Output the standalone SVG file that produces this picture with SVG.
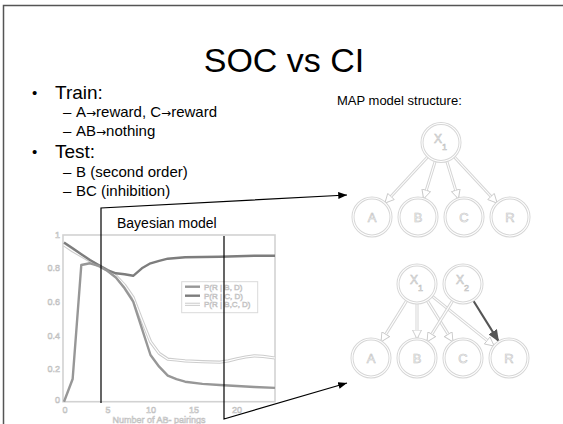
<svg xmlns="http://www.w3.org/2000/svg" width="563" height="424" viewBox="0 0 563 424">
  <defs>
    <style>
      .txt { font-family: "Liberation Sans", Arial, sans-serif; fill: #000; }
      .arr { font-family: "DejaVu Sans", sans-serif; font-size: 12px; }
      .ghost { font-family: "Liberation Sans", Arial, sans-serif; fill: #fff; stroke: #c2c2c2; stroke-width: 0.6; }
      .node-ring { fill: #fff; stroke: #d6d6d6; stroke-width: 3; }
      .node-core { fill: none; stroke: #fff; stroke-width: 1.1; }
      .edge-outer { stroke: #d4d4d4; stroke-width: 3; fill: none; marker-end: url(#hollow); }
      .edge-inner { stroke: #fff; stroke-width: 1.1; fill: none; }
      .pointer { stroke: #000; stroke-width: 1.2; fill: none; marker-end: url(#solid); }
    </style>
    <marker id="hollow" markerUnits="userSpaceOnUse" viewBox="0 0 10 10" refX="9.5" refY="5" markerWidth="10" markerHeight="10" orient="auto">
      <path d="M0.5,0.5 L9.5,5 L0.5,9.5 z" fill="#fff" stroke="#c8c8c8" stroke-width="0.9"/>
    </marker>
    <marker id="solid" markerUnits="userSpaceOnUse" viewBox="0 0 10 8" refX="10" refY="4" markerWidth="9" markerHeight="7" orient="auto">
      <path d="M0,0 L10,4 L0,8 z" fill="#000"/>
    </marker>
    <marker id="dark" markerUnits="userSpaceOnUse" viewBox="0 0 12 10" refX="12" refY="5" markerWidth="12" markerHeight="10" orient="auto">
      <path d="M0,0 L12,5 L0,10 z" fill="#555"/>
    </marker>
  </defs>

  <rect width="563" height="424" fill="#fff"/>

  <!-- slide frame -->
  <path d="M3.5,424 V5.5 H563" fill="none" stroke="#555" stroke-width="1.5"/>

  <!-- title -->
  <text id="title" class="txt" x="284" y="72" font-size="34" text-anchor="middle">SOC vs CI</text>

  <!-- bullet list -->
  <g id="bullets" class="txt">
    <text x="32" y="98" font-size="15">•</text>
    <text x="55" y="99" font-size="19">Train:</text>
    <text x="63" y="117" font-size="15">–</text>
    <text x="76" y="117" font-size="15">A<tspan class="arr">→</tspan>reward, C<tspan class="arr">→</tspan>reward</text>
    <text x="63" y="136" font-size="15">–</text>
    <text x="76" y="136" font-size="15">AB<tspan class="arr">→</tspan>nothing</text>
    <text x="32" y="157" font-size="15">•</text>
    <text x="55" y="158" font-size="19">Test:</text>
    <text x="63" y="177" font-size="15">–</text>
    <text x="76" y="177" font-size="15">B (second order)</text>
    <text x="63" y="196" font-size="15">–</text>
    <text x="76" y="196" font-size="15">BC (inhibition)</text>
  </g>

  <text id="map-label" class="txt" x="337" y="105" font-size="13">MAP model structure:</text>
  <text id="bayes-label" class="txt" x="117" y="228" font-size="14">Bayesian model</text>

  <!-- chart -->
  <g id="chart">
    <rect x="63" y="235" width="212" height="166.7" fill="#fff" stroke="#d2d2d2" stroke-width="1.6"/>
    <g class="ghost" font-size="9" text-anchor="end">
      <text x="60" y="238">1</text>
      <text x="60" y="271">0.8</text>
      <text x="60" y="305">0.6</text>
      <text x="60" y="339">0.4</text>
      <text x="60" y="372">0.2</text>
      <text x="60" y="403">0</text>
    </g>
    <g class="ghost" font-size="9" text-anchor="middle">
      <text x="65" y="413">0</text>
      <text x="108" y="413">5</text>
      <text x="151" y="413">10</text>
      <text x="194" y="413">15</text>
      <text x="237" y="413">20</text>
      <text x="159" y="423">Number of AB- pairings</text>
    </g>
    <!-- P(R | B,C, D) -->
    <polyline fill="none" stroke="#cdcdcd" stroke-width="3.2" stroke-linejoin="round"
      points="64,245 72.65,250.8 81.3,255.8 89.95,260.8 98.6,265.8 107.25,270 115.9,275.8 124.55,285 133.2,297.5 141.85,320 150.5,341.7 159.15,353.4 167.8,359.2 176.45,360 185.1,360.9 202.4,361.7 219.7,362.2 228.35,360.9 237,358.7 245.65,357 254.3,355.9 262.95,356.4 275,358"/>
    <polyline fill="none" stroke="#fff" stroke-width="1.1" stroke-linejoin="round"
      points="64,245 72.65,250.8 81.3,255.8 89.95,260.8 98.6,265.8 107.25,270 115.9,275.8 124.55,285 133.2,297.5 141.85,320 150.5,341.7 159.15,353.4 167.8,359.2 176.45,360 185.1,360.9 202.4,361.7 219.7,362.2 228.35,360.9 237,358.7 245.65,357 254.3,355.9 262.95,356.4 275,358"/>
    <!-- P(R | C, D) -->
    <polyline fill="none" stroke="#7d7d7d" stroke-width="2.4" stroke-linejoin="round"
      points="64,242.5 72.65,248.3 81.3,254.2 89.95,260 98.6,265 107.25,270 115.9,273.3 124.55,274.2 133.2,275.8 141.85,268.3 150.5,263.3 159.15,260.8 167.8,258.7 176.45,258 185.1,257.3 202.4,257 219.7,256.7 237,256.2 254.3,255.8 275,255.8"/>
    <!-- P(R | B, D) -->
    <polyline fill="none" stroke="#979797" stroke-width="2.4" stroke-linejoin="round"
      points="64,401.7 72.65,379 81.3,265 89.95,263.3 98.6,265.8 107.25,270.8 115.9,277.5 124.55,288.3 133.2,301.7 141.85,328.3 150.5,355 159.15,366.7 167.8,375.7 176.45,379.2 185.1,381.7 202.4,383.9 219.7,385 237,386 254.3,387 275,387.9"/>
    <!-- legend -->
    <rect x="181.7" y="281.7" width="76" height="31" fill="#fff" stroke="#dadada" stroke-width="1"/>
    <line x1="185" y1="286.7" x2="200" y2="286.7" stroke="#979797" stroke-width="2.4"/>
    <line x1="185" y1="295.7" x2="200" y2="295.7" stroke="#7d7d7d" stroke-width="2.4"/>
    <line x1="185" y1="304.3" x2="200" y2="304.3" stroke="#cdcdcd" stroke-width="3.2"/>
    <line x1="185" y1="304.3" x2="200" y2="304.3" stroke="#fff" stroke-width="1.1"/>
    <g class="ghost" font-size="8">
      <text x="204" y="289.5">P(R | B, D)</text>
      <text x="204" y="298.5">P(R | C, D)</text>
      <text x="204" y="307">P(R | B,C, D)</text>
    </g>
  </g>

  <!-- structure edges -->
  <g id="edges">
    <line class="edge-outer" x1="428.1" y1="156.4" x2="384.9" y2="203.1"/>
    <line class="edge-inner" x1="428.1" y1="156.4" x2="391" y2="196.5"/>
    <line class="edge-outer" x1="435.4" y1="160.6" x2="423.6" y2="198.9"/>
    <line class="edge-inner" x1="435.4" y1="160.6" x2="426.3" y2="190.3"/>
    <line class="edge-outer" x1="446.6" y1="160.6" x2="458.4" y2="198.9"/>
    <line class="edge-inner" x1="446.6" y1="160.6" x2="455.7" y2="190.3"/>
    <line class="edge-outer" x1="453.9" y1="156.4" x2="497.1" y2="203.1"/>
    <line class="edge-inner" x1="453.9" y1="156.4" x2="491" y2="196.5"/>

    <line class="edge-outer" x1="407" y1="300.1" x2="381" y2="341.9"/>
    <line class="edge-inner" x1="407" y1="300.1" x2="385.8" y2="334.3"/>
    <line class="edge-outer" x1="417" y1="303" x2="417" y2="339"/>
    <line class="edge-inner" x1="417" y1="303" x2="417" y2="330"/>
    <line class="edge-outer" x1="427" y1="300.1" x2="453" y2="341.9"/>
    <line class="edge-inner" x1="427" y1="300.1" x2="448.2" y2="334.3"/>
    <line class="edge-outer" x1="431.8" y1="295.9" x2="494.2" y2="346.1"/>
    <line class="edge-inner" x1="431.8" y1="295.9" x2="487.2" y2="340.5"/>
    <line class="edge-outer" x1="453" y1="300.1" x2="427" y2="341.9"/>
    <line class="edge-inner" x1="453" y1="300.1" x2="431.8" y2="334.3"/>
    <line x1="473" y1="300.1" x2="499" y2="341.9" stroke="#555" stroke-width="2" marker-end="url(#dark)"/>
  </g>

  <!-- single-latent structure -->
  <g id="top-x1">
    <circle class="node-ring" cx="441" cy="142.5" r="19"/><circle class="node-core" cx="441" cy="142.5" r="19"/>
    <text class="ghost" x="434" y="143" font-size="12">X</text><text class="ghost" x="442" y="150" font-size="9">1</text>
  </g>
  <g id="top-a"><circle class="node-ring" cx="372" cy="217" r="19"/><circle class="node-core" cx="372" cy="217" r="19"/><text class="ghost" x="372" y="222" font-size="13" text-anchor="middle">A</text></g>
  <g id="top-b"><circle class="node-ring" cx="418" cy="217" r="19"/><circle class="node-core" cx="418" cy="217" r="19"/><text class="ghost" x="418" y="222" font-size="13" text-anchor="middle">B</text></g>
  <g id="top-c"><circle class="node-ring" cx="464" cy="217" r="19"/><circle class="node-core" cx="464" cy="217" r="19"/><text class="ghost" x="464" y="222" font-size="13" text-anchor="middle">C</text></g>
  <g id="top-r"><circle class="node-ring" cx="510" cy="217" r="19"/><circle class="node-core" cx="510" cy="217" r="19"/><text class="ghost" x="510" y="222" font-size="13" text-anchor="middle">R</text></g>

  <!-- two-latent structure -->
  <g id="bot-x1">
    <circle class="node-ring" cx="417" cy="284" r="19"/><circle class="node-core" cx="417" cy="284" r="19"/>
    <text class="ghost" x="410" y="284" font-size="12">X</text><text class="ghost" x="418" y="291" font-size="9">1</text>
  </g>
  <g id="bot-x2">
    <circle class="node-ring" cx="463" cy="284" r="19"/><circle class="node-core" cx="463" cy="284" r="19"/>
    <text class="ghost" x="456" y="284" font-size="12">X</text><text class="ghost" x="464" y="291" font-size="9">2</text>
  </g>
  <g id="bot-a"><circle class="node-ring" cx="371" cy="358" r="19"/><circle class="node-core" cx="371" cy="358" r="19"/><text class="ghost" x="371" y="363" font-size="13" text-anchor="middle">A</text></g>
  <g id="bot-b"><circle class="node-ring" cx="417" cy="358" r="19"/><circle class="node-core" cx="417" cy="358" r="19"/><text class="ghost" x="417" y="363" font-size="13" text-anchor="middle">B</text></g>
  <g id="bot-c"><circle class="node-ring" cx="463" cy="358" r="19"/><circle class="node-core" cx="463" cy="358" r="19"/><text class="ghost" x="463" y="363" font-size="13" text-anchor="middle">C</text></g>
  <g id="bot-r"><circle class="node-ring" cx="509" cy="358" r="19"/><circle class="node-core" cx="509" cy="358" r="19"/><text class="ghost" x="509" y="363" font-size="13" text-anchor="middle">R</text></g>

  <!-- pointers from the chart to the structures -->
  <g id="connectors">
    <polyline class="pointer" points="101,403 101,208 347,195"/>
    <polyline class="pointer" points="224,236 224,419 347,383"/>
  </g>
</svg>
